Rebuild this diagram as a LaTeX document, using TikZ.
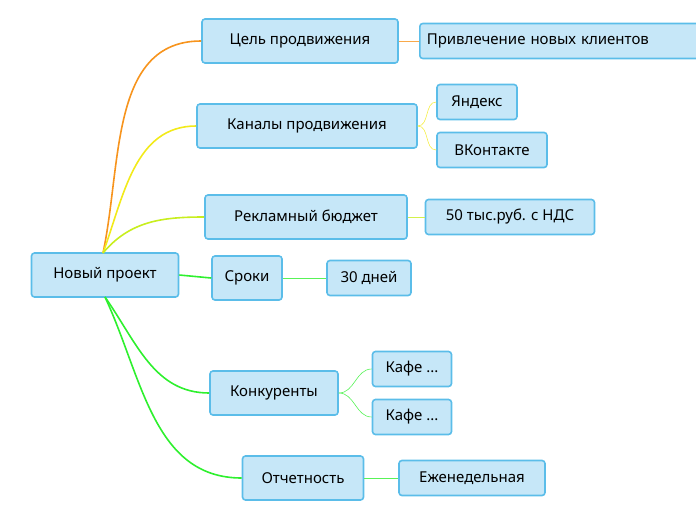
\documentclass[tikz,border=0pt]{standalone}
\usepackage{fontspec}
\setmainfont{Noto Sans}
\begin{document}
\begin{tikzpicture}[x=1pt,y=-1pt,
  box/.style={draw=bordc,fill=fillc,line width=1.6pt,rounded corners=3pt,inner sep=0pt,minimum height=44pt,font=\fontsize{15}{18}\selectfont\bfseries},
  leaf/.style={draw=bordc,fill=fillc,line width=1.6pt,rounded corners=3pt,inner sep=0pt,minimum height=35pt,font=\fontsize{15}{18}\selectfont},
  main/.style={line width=1.6pt},
  sub/.style={line width=0.6pt}]
\definecolor{bordc}{HTML}{5BBDE9}
\definecolor{fillc}{HTML}{C6E7F8}
\definecolor{corange}{HTML}{F7941D}
\definecolor{cyellow}{HTML}{F2EA1A}
\definecolor{cyg}{HTML}{C8EE1E}
\definecolor{cgreen}{HTML}{2EF02E}
\useasboundingbox (0,0) rectangle (696,520);
\node[box,minimum width=147pt] (root) at (105,275) {Новый проект};
\node[box,minimum width=196pt] (goal) at (300,41) {Цель продвижения};
\node[leaf,minimum width=290pt,anchor=west,text width=276pt,align=left] (goalc) at (419,41) {Привлечение новых клиентов};
\node[box,minimum width=220pt] (chan) at (307,126) {Каналы продвижения};
\node[leaf,minimum width=80pt] (yan) at (477,102) {Яндекс};
\node[leaf,minimum width=110pt] (vk) at (492,150) {ВКонтакте};
\node[box,minimum width=202pt] (bud) at (306,217) {Рекламный бюджет};
\node[leaf,minimum width=169pt] (budc) at (510,217) {50 тыс.руб. с НДС};
\node[box,minimum width=70pt] (srok) at (247,278) {Сроки};
\node[leaf,minimum width=84pt] (srokc) at (369,278) {30 дней};
\node[box,minimum width=128pt] (konk) at (274,393) {Конкуренты};
\node[leaf,minimum width=79pt] (k1) at (412,369) {Кафе ...};
\node[leaf,minimum width=79pt] (k2) at (412,417) {Кафе ...};
\node[box,minimum width=121pt] (otch) at (303,478) {Отчетность};
\node[leaf,minimum width=146pt] (otchc) at (472,478) {Еженедельная};
\coordinate (r) at (103,253);
\coordinate (rb) at (105,297);
\begin{scope}[on background layer/.style={}]
\draw[main,corange] (r) to[out=78,in=180] (goal.west);
\draw[main,cyellow] (r) to[out=70,in=180] (chan.west);
\draw[main,cyg] (r) to[out=50,in=180] (bud.west);
\draw[main,cgreen] (root.east) -- (srok.west);
\draw[main,cgreen] (rb) to[out=-55,in=180] (konk.west);
\draw[main,cgreen] (rb) to[out=-65,in=180] (otch.west);
\draw[sub,corange!80] (goal.east) -- (goalc.west);
\draw[sub,cyellow!80] (chan.east) to[out=0,in=180] (yan.west);
\draw[sub,cyellow!80] (chan.east) to[out=0,in=180] (vk.west);
\draw[sub,cyg!80] (bud.east) -- (budc.west);
\draw[sub,cgreen!80] (srok.east) -- (srokc.west);
\draw[sub,cgreen!80] (konk.east) to[out=0,in=180] (k1.west);
\draw[sub,cgreen!80] (konk.east) to[out=0,in=180] (k2.west);
\draw[sub,cgreen!80] (otch.east) -- (otchc.west);
\end{scope}
\end{tikzpicture}
\end{document}
